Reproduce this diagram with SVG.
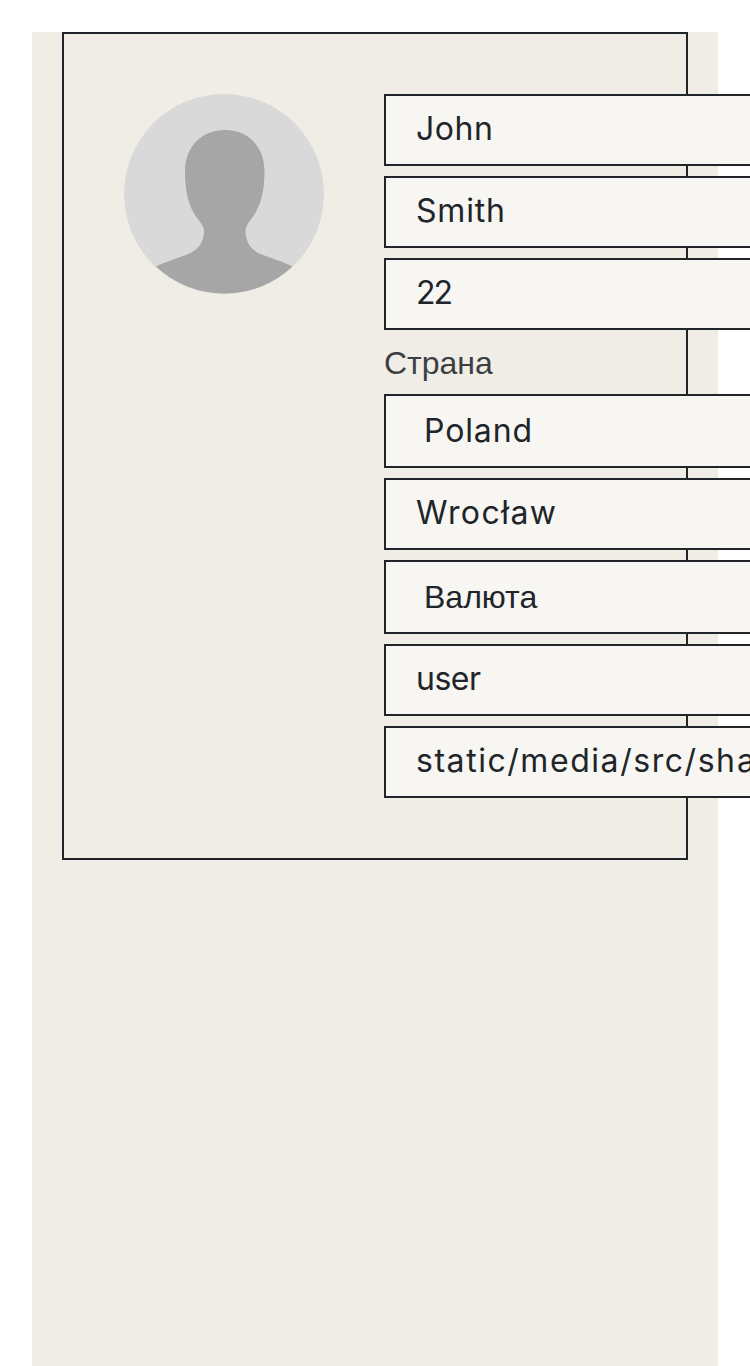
<svg xmlns="http://www.w3.org/2000/svg" width="750" height="1366" viewBox="0 0 750 1366">
<style>
.f{fill:#f7f6f2;stroke:#212529;stroke-width:2}
.t{font-family:"Inter","Liberation Sans",sans-serif;font-size:32px;fill:#212529}
.l{font-family:"Liberation Sans",Arial,sans-serif;font-size:32px}
</style>
<rect width="750" height="1366" fill="#fff"/>
<rect id="page" x="32" y="32" width="686" height="1334" fill="#f0ede6"/>
<rect id="card" x="63" y="33" width="624" height="826" fill="none" stroke="#212529" stroke-width="2"/>
<g id="avatar">
<circle cx="224" cy="194" r="100" fill="#d9d9d9"/>
<path d="M156,266.500C160,264 178,258 187,254.500C197,251 204,243 204,231C204,226 200,222 197,218C189,207 185,193 185,172C185,146 202,130 225,130C248,130 264.500,146 264.500,172C264.500,193 260,207 252,218C249,222 245.500,226 245.500,231C245.500,243 252,251 262,254.500C271,258 286,263 292.500,266.500A100,100 0 0 1 156,266.500Z" fill="#a6a6a6"/>
</g>
<g id="first-name"><rect class="f" x="385" y="95" width="400" height="70"/><text class="t" x="416" y="140" textLength="77">John</text></g>
<g id="last-name"><rect class="f" x="385" y="177" width="400" height="70"/><text class="t" x="416" y="222" textLength="89">Smith</text></g>
<g id="age"><rect class="f" x="385" y="259" width="400" height="70"/><text class="t" x="416" y="304" textLength="37">22</text></g>
<text id="country-label" class="l" x="384" y="374" fill="#3b3f42">Страна</text>
<g id="country"><rect class="f" x="385" y="395" width="400" height="72"/><text class="t" x="424" y="442" textLength="108">Poland</text></g>
<g id="city"><rect class="f" x="385" y="479" width="400" height="70"/><text class="t" x="416" y="524" textLength="140">Wrocław</text></g>
<g id="currency"><rect class="f" x="385" y="561" width="400" height="72"/><text class="l" x="424" y="608" fill="#212529">Валюта</text></g>
<g id="role"><rect class="f" x="385" y="645" width="400" height="70"/><text class="t" x="416" y="690" textLength="65">user</text></g>
<g id="path"><rect class="f" x="385" y="727" width="400" height="70"/><text class="t" y="772"><tspan x="416" textLength="319">static/media/src/sh</tspan><tspan x="737">a</tspan></text></g>
</svg>
